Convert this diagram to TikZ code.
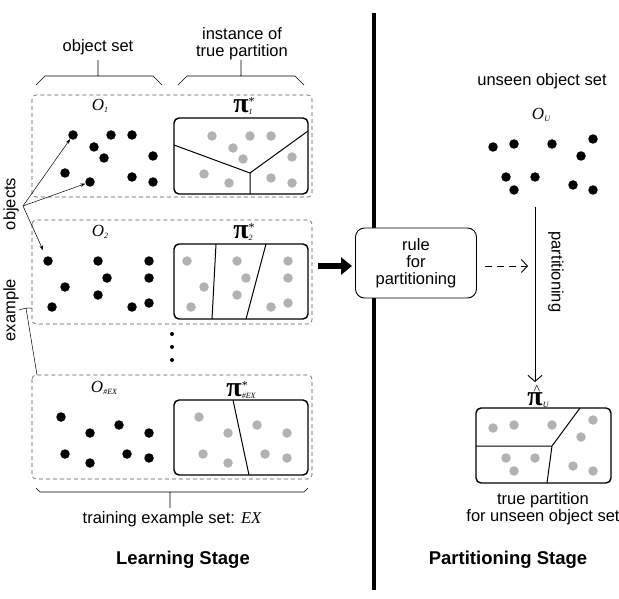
\documentclass[tikz,border=0pt]{standalone}
\usepackage{fontspec}
\setmainfont{Liberation Sans}
\newfontfamily\mathserif{Liberation Serif}
\usetikzlibrary{arrows.meta, positioning, calc}

\newcommand{\subtxt}[1]{{\mathserif\itshape\fontsize{8}{8}\selectfont #1}}
\newcommand{\objset}[1]{{\mathserif\itshape\fontsize{17}{17}\selectfont O}\raisebox{-2pt}{\subtxt{#1}}}
\newcommand{\partsym}{{\mathserif\bfseries\fontsize{28}{28}\selectfont π}}
\newcommand{\truepart}[1]{\partsym\rlap{\raisebox{7pt}{\mathserif\fontsize{12}{12}\selectfont *}}\raisebox{-2pt}{\subtxt{#1}}}

\begin{document}
\begin{tikzpicture}[x=1pt, y=-1pt,
        txt/.style={font=\fontsize{16.5}{17}\selectfont, align=center, inner sep=0pt},
        stage/.style={font=\fontsize{18.5}{20}\selectfont\bfseries, inner sep=0pt},
        objdot/.style={circle, fill=black, inner sep=0pt, minimum size=9.5pt},
        classdot/.style={circle, fill=black!30, inner sep=0pt, minimum size=9.5pt},
        setbox/.style={draw=black!65, dash pattern=on 4pt off 3pt, rounded corners=4pt, line width=0.6pt},
        partbox/.style={draw, line width=1.4pt, rounded corners=5pt},
        cutline/.style={line width=1pt},
        brace/.style={line width=0.7pt},
        pointer/.style={-{Stealth[length=5pt, width=3.5pt]}, line width=0.5pt},
        rulebox/.style={draw, fill=white, line width=0.9pt, rounded corners=9pt,
                        minimum width=121pt, minimum height=70pt, align=center,
                        font=\fontsize{16.5}{17}\selectfont, inner sep=0pt}
    ]
    \useasboundingbox (0,0) rectangle (619,599);

    % stage divider
    \draw[line width=4pt] (374,13) -- (374,590);

    % labels over the training examples
    \draw[brace] (36,85) -- (45,76) -- (153,76) -- (162,85) (98,76) -- (98,60);
    \draw[brace] (178,85) -- (187,76) -- (295,76) -- (304,85) (241,76) -- (241,60);
    \node[txt] (objsetlbl) at (98,47) {object set};
    \node[txt] (instlbl) at (242,44) {instance of\\true partition};

    % example 1
    \draw[setbox] (32,95) rectangle (312,197);
    \node (o1) at (100,106) {\objset{1}};
    \node (pi1) at (243,106) {\truepart{1}};
    \draw[cutline] (174,145) -- (250,173) -- (308,131) (250,173) -- (250,194);
    \draw[partbox] (174,118) rectangle (308,194);
    \foreach \x/\y [count=\i] in {73/135, 111/135, 132/135, 94/147, 104/158, 153/156, 65/173, 90/182, 132/177, 153/182} {
        \node[objdot] (o1-\i) at (\x,\y) {};
        \node[classdot] (c1-\i) at ({\x+139},{\y+1}) {};
    }

    % example 2
    \draw[setbox] (32,220) rectangle (312,324);
    \node (o2) at (100,232) {\objset{2}};
    \node (pi2) at (243,232) {\truepart{2}};
    \draw[cutline] (216,244) -- (212,319) (266,244) -- (246,319);
    \draw[partbox] (174,244) rectangle (308,319);
    \foreach \x/\y [count=\i] in {48/261, 98/261, 149/261, 107/278, 149/278, 65/287, 98/295, 52/307, 132/307, 149/303} {
        \node[objdot] (o2-\i) at (\x,\y) {};
        \node[classdot] (c2-\i) at ({\x+139},\y) {};
    }

    % more examples
    \foreach \y [count=\i] in {334, 347, 360}
        \node[circle, fill=black, inner sep=0pt, minimum size=4pt] (more-\i) at (172,\y) {};

    % last example
    \draw[setbox] (32,375) rectangle (312,479);
    \node (oex) at (104,388) {\objset{\#EX}};
    \node (piex) at (241,390) {\truepart{\#EX}};
    \draw[cutline] (233,400) -- (249,475);
    \draw[partbox] (174,400) rectangle (308,475);
    \foreach \x/\y [count=\i] in {61/417, 90/433, 119/425, 149/433, 65/454, 90/463, 127/454, 149/458} {
        \node[objdot] (oex-\i) at (\x,\y) {};
        \node[classdot] (cex-\i) at ({\x+138},\y) {};
    }

    % training set
    \draw[brace] (36,488) -- (40,492) -- (304,492) -- (308,488) (170,492) -- (170,508);
    \node[txt] (trainlbl) at (172,519) {training example set: {\mathserif\itshape EX}};
    \node[stage] (learn) at (183,560) {Learning Stage};

    % side labels
    \node[txt, rotate=90] (objects) at (11,204) {objects};
    \coordinate (objtip) at (23,206);
    \draw[pointer] (objtip) -- (o1-1);
    \draw[pointer] (objtip) -- (o1-8);
    \draw[pointer, shorten >=7pt] (objtip) -- (o2-1);
    \node[txt, rotate=90] (example) at (11,310) {example};
    \coordinate (exbend) at (26,308);
    \draw[line width=0.5pt] (example.south) -- (exbend) -- (32,308) (exbend) -- (37,375);

    % learning the rule
    \node[rulebox] (rule) at (416,263) {rule\\for\\partitioning};
    \coordinate (ex2east) at (312,266);
    \draw[-{Triangle[length=11pt, width=17pt]}, line width=6pt, shorten <=6pt, shorten >=3pt] (ex2east) -- (rule.west |- ex2east);
    \coordinate (applytip) at (528,266);
    \draw[-{Straight Barb[length=6pt, width=13pt]}, line width=0.9pt, dash pattern=on 7pt off 5pt, shorten <=8pt] (rule.east |- applytip) -- (applytip);

    % unseen objects
    \node[txt] (unseenlbl) at (542,81) {unseen object set};
    \node (ou) at (541,115) {\objset{U}};
    \foreach \x/\y [count=\i] in {493/147, 514/144, 552/144, 593/139, 581/156, 506/177, 535/177, 514/190, 573/185, 593/190} {
        \node[objdot] (ou-\i) at (\x,\y) {};
        \node[classdot] (cu-\i) at (\x,{\y+281}) {};
    }
    \coordinate (parttop) at (535,207);
    \coordinate (parttip) at (535,382);
    \draw[-{Straight Barb[length=6pt, width=14pt]}, line width=0.9pt] (parttop) -- (parttip);
    \node[txt, rotate=-90] (partlbl) at (556,272) {partitioning};

    % predicted partition
    \node[inner sep=0pt] (pihat) at (538,396) {\partsym\llap{\raisebox{11pt}{\mathserif\fontsize{14}{14}\selectfont\textasciicircum}\hspace{2.5pt}}\raisebox{-2pt}{\subtxt{U}}};
    \draw[cutline] (476,446) -- (552,446) -- (580,408) (552,446) -- (547,483);
    \draw[partbox] (476,408) rectangle (611,483);
    \node[txt] (resultlbl) at (543,509) {true partition\\for unseen object set};
    \node[stage] (partstage) at (508,560) {Partitioning Stage};
\end{tikzpicture}
\end{document}
